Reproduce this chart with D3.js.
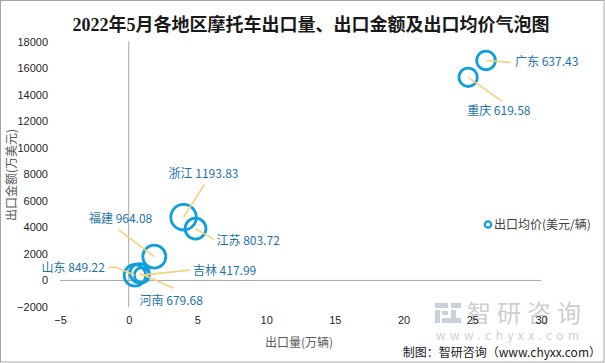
<!DOCTYPE html>
<html>
<head>
<meta charset="utf-8">
<script src="https://cdn.jsdelivr.net/npm/d3@7"></script>
<style>
  body { margin: 0; background: #fff; }
  svg text { font-family: "Noto Sans CJK SC", "Liberation Sans", sans-serif; }
</style>
</head>
<body>
<div id="chart"></div>
<script>
const regions = ["广东", "重庆", "浙江", "江苏", "福建", "山东", "吉林", "河南"];
const volume = [26.0, 24.7, 3.99, 4.86, 1.86, 0.45, 0.96, 0.79];      // 出口量(万辆)
const amount = [16573, 15304, 4763, 3906, 1793, 390, 401, 537];      // 出口金额(万美元)
const price = [637.43, 619.58, 1193.83, 803.72, 964.08, 849.22, 417.99, 679.68]; // 出口均价(美元/辆)

const xTicks = [-5, 0, 5, 10, 15, 20, 25, 30];
const yTicks = [-2000, 0, 2000, 4000, 6000, 8000, 10000, 12000, 14000, 16000, 18000];

// label placement relative to the bubble centre (pixels): text anchor + leader line end
const labelPos = {
  "广东": { tx: 29, ty: 1, anchor: "start", lx: 25, ly: 2 },
  "重庆": { tx: -1, ty: 34, anchor: "start", lx: 34, ly: 24 },
  "浙江": { tx: -15, ty: -43, anchor: "start", lx: 21, ly: -33 },
  "江苏": { tx: 21, ty: 12, anchor: "start", lx: 19, ly: 11 },
  "福建": { tx: -2, ty: -38, anchor: "end", lx: -36, ly: -27 },
  "山东": { tx: -30, ty: -7, anchor: "end", lx: -26, ly: -8, bx: -19 },
  "吉林": { tx: 51, ty: -4, anchor: "start", lx: 48, ly: -5 },
  "河南": { tx: 0, ty: 27, anchor: "start", lx: 34, ly: 15 }
};

const data = regions.map((r, i) => ({ region: r, x: volume[i], y: amount[i], p: price[i] }));

const W = 605, H = 363;
const svg = d3.select("#chart").append("svg").attr("width", W).attr("height", H);

// outer border
svg.append("rect").attr("x", 0.5).attr("y", 0.5).attr("width", W - 1.5).attr("height", H - 1.5)
  .attr("fill", "#fff").attr("stroke", "#a6a6a6");

const x = d3.scaleLinear().domain([-5, 30]).range([60, 541]);
const y = d3.scaleLinear().domain([-2000, 18000]).range([307, 41.5]);
const r = d3.scaleSqrt().domain([0, 1200]).range([0, 12.8]);

// watermark
const wm = svg.append("g").attr("fill", "#c9d0dc");
wm.append("rect").attr("x", 435).attr("y", 303).attr("width", 13).attr("height", 5);
wm.append("rect").attr("x", 435).attr("y", 310).attr("width", 5).attr("height", 13);
wm.append("rect").attr("x", 442).attr("y", 311).attr("width", 6).attr("height", 4);
wm.append("rect").attr("x", 451).attr("y", 303).attr("width", 10).attr("height", 5);
wm.append("rect").attr("x", 451).attr("y", 310).attr("width", 5).attr("height", 13);
wm.append("rect").attr("x", 442).attr("y", 318).attr("width", 19).attr("height", 5);
svg.append("text").attr("x", 467).attr("y", 322).attr("fill", "#cfcfcf")
  .style("font-size", "24px").style("letter-spacing", "6px").text("智研咨询");
svg.append("text").attr("x", 436).attr("y", 340).attr("fill", "#cfcfcf")
  .style("font-size", "12px").style("letter-spacing", "4.4px").text("www.chyxx.com");

// title
svg.append("text").attr("x", 311).attr("y", 31).attr("text-anchor", "middle")
  .attr("fill", "#1a1a1a").style("font-size", "18px").style("font-weight", "bold")
  .style("font-family", "'Liberation Serif', 'Noto Sans CJK SC', serif")
  .text("2022年5月各地区摩托车出口量、出口金额及出口均价气泡图");

// axes (labels only)
const yAxis = svg.append("g").attr("transform", "translate(60,0)")
  .call(d3.axisLeft(y).tickValues(yTicks).tickSize(0).tickPadding(12).tickFormat(d3.format("d")));
const xAxis = svg.append("g").attr("transform", "translate(0,307)")
  .call(d3.axisBottom(x).tickValues(xTicks).tickSize(0).tickPadding(9));
[xAxis, yAxis].forEach(a => {
  a.select(".domain").remove();
  a.selectAll("text").attr("fill", "#262626").style("font-size", "11px")
    .style("font-family", "'Liberation Sans', sans-serif");
});

// zero lines
svg.append("line").attr("x1", x(-5)).attr("x2", x(30)).attr("y1", y(0)).attr("y2", y(0))
  .attr("stroke", "#a6a6a6");
svg.append("line").attr("x1", x(0)).attr("x2", x(0)).attr("y1", y(18000)).attr("y2", y(-2000))
  .attr("stroke", "#a6a6a6");

// axis titles
svg.append("text").attr("x", 299).attr("y", 347).attr("text-anchor", "middle")
  .attr("fill", "#595959").style("font-size", "12px").text("出口量(万辆)");
svg.append("text").attr("transform", "translate(16,175) rotate(-90)").attr("text-anchor", "middle")
  .attr("fill", "#595959").style("font-size", "12px").text("出口金额(万美元)");

// bubbles
svg.append("g").selectAll("circle").data(data).enter().append("circle")
  .attr("cx", d => x(d.x)).attr("cy", d => y(d.y)).attr("r", d => r(d.p))
  .attr("fill", "none").attr("stroke", "#0e9fdc").attr("stroke-width", 2.8);

// leader lines
svg.append("g").selectAll("polyline").data(data).enter().append("polyline")
  .attr("points", d => {
    const o = labelPos[d.region], cx = x(d.x), cy = y(d.y);
    const pts = [[cx, cy], [cx + o.lx, cy + o.ly]];
    if (o.bx !== undefined) pts.splice(1, 0, [cx + o.bx, cy + o.ly]);
    return pts.map(p => p.join(",")).join(" ");
  })
  .attr("fill", "none").attr("stroke", "#f6d27e").attr("stroke-width", 1.6);

// data labels
svg.append("g").selectAll("text").data(data).enter().append("text")
  .attr("x", d => x(d.x) + labelPos[d.region].tx)
  .attr("y", d => y(d.y) + labelPos[d.region].ty)
  .attr("dy", "0.35em").attr("text-anchor", d => labelPos[d.region].anchor)
  .attr("fill", "#1d72ad").style("font-size", "12px")
  .text(d => d.region + " " + d.p.toFixed(2));

// legend
svg.append("circle").attr("cx", 488).attr("cy", 224.5).attr("r", 3.2)
  .attr("fill", "none").attr("stroke", "#0e9fdc").attr("stroke-width", 2.2);
svg.append("text").attr("x", 494).attr("y", 224.5).attr("dy", "0.35em")
  .attr("fill", "#404040").style("font-size", "12px").text("出口均价(美元/辆)");

// source
svg.append("text").attr("x", 601).attr("y", 357).attr("text-anchor", "end")
  .attr("fill", "#1a1a1a").style("font-size", "12px").text("制图：智研咨询（www.chyxx.com）");
</script>
</body>
</html>
